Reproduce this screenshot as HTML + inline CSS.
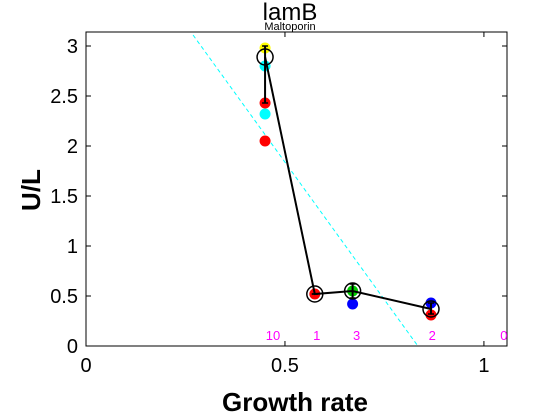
<!DOCTYPE html>
<html><head><meta charset="utf-8"><style>body{margin:0;background:#fff}svg{display:block;font-family:"Liberation Sans",sans-serif}</style></head>
<body>
<svg id="c" width="560" height="420"></svg>
<script>
const xTicks=[0,0.5,1];
const yTicks=[0,0.5,1,1.5,2,2.5,3];
const groupX=[0.45,0.575,0.67,0.867];
const meanY=[2.89,0.52,0.55,0.37];
const counts=["10","1","3","2","0"];
const countX=[0.47,0.58,0.68,0.87,1.05];
const pointX=[0.45,0.45,0.45,0.45,0.45,0.575,0.67,0.67,0.867,0.867];
const pointY=[2.98,2.80,2.43,2.32,2.05,0.52,0.55,0.42,0.43,0.31];
const pointC=["#ff0","#0ff","#f00","#0ff","#f00","#f00","#0c0","#00f","#00f","#f00"];
const errLow=[2.43,0.52,0.48,0.32];
const errHigh=[3.0,0.52,0.62,0.43];
const fitX=[0.269,0.834];
const fitY=[3.11,0];
const L=86,R=507,T=32,B=346,XMAX=1.058,YMAX=3.14;
const sx=v=>L+v/XMAX*(R-L), sy=v=>B-v/YMAX*(B-T);
const svg=document.getElementById('c');const NS='http://www.w3.org/2000/svg';
function mk(t,a,p){const e=document.createElementNS(NS,t);for(const k in a)e.setAttribute(k,a[k]);(p||svg).appendChild(e);return e;}
let e=mk('rect',{x:L,y:T,width:R-L,height:B-T,fill:'#fff',stroke:'#000'});

xTicks.forEach(v=>{mk('line',{x1:sx(v),x2:sx(v),y1:B,y2:B-5,stroke:'#000'});mk('line',{x1:sx(v),x2:sx(v),y1:T,y2:T+5,stroke:'#000'});
e=mk('text',{x:sx(v),y:B+26,'font-size':20,'text-anchor':'middle'});e.textContent=v;});
yTicks.forEach(v=>{mk('line',{x1:L,x2:L+5,y1:sy(v),y2:sy(v),stroke:'#000'});mk('line',{x1:R,x2:R-5,y1:sy(v),y2:sy(v),stroke:'#000'});
e=mk('text',{x:L-8,y:sy(v)+7,'font-size':20,'text-anchor':'end'});e.textContent=v;});
e=mk('line',{x1:sx(fitX[0]),y1:sy(fitY[0]),x2:sx(fitX[1]),y2:sy(fitY[1]),stroke:'#0ff','stroke-dasharray':'4,3'});

pointX.forEach((x,i)=>{e=mk('circle',{cx:sx(x),cy:sy(pointY[i]),r:5.5,fill:pointC[i]});});
groupX.forEach((x,i)=>{e=mk('line',{x1:sx(x),x2:sx(x),y1:sy(errLow[i]),y2:sy(errHigh[i]),stroke:'#000','stroke-width':2});
mk('line',{x1:sx(x)-3,x2:sx(x)+3,y1:sy(errLow[i]),y2:sy(errLow[i]),stroke:'#000','stroke-width':1.5});mk('line',{x1:sx(x)-3,x2:sx(x)+3,y1:sy(errHigh[i]),y2:sy(errHigh[i]),stroke:'#000','stroke-width':1.5});});
e=mk('polyline',{points:groupX.map((x,i)=>sx(x)+','+sy(meanY[i])).join(' '),fill:'none',stroke:'#000','stroke-width':2});

groupX.forEach((x,i)=>{e=mk('circle',{cx:sx(x),cy:sy(meanY[i]),r:8,fill:'none',stroke:'#000','stroke-width':1.5});});
counts.forEach((c,i)=>{e=mk('text',{x:sx(countX[i]),y:340,'font-size':13,fill:'#f0f','text-anchor':'middle'});e.textContent=c;});
e=mk('text',{x:290,y:20,'font-size':24,'text-anchor':'middle'});e.textContent='lamB';
e=mk('text',{x:290,y:30,'font-size':11,'text-anchor':'middle'});e.textContent='Maltoporin';
e=mk('text',{x:295,y:411,'font-size':26,'font-weight':'bold','text-anchor':'middle'});e.textContent='Growth rate';
e=mk('text',{x:40,y:190,'font-size':26,'font-weight':'bold','text-anchor':'middle',transform:'rotate(-90 40 190)'});e.textContent='U/L';
</script>
</body></html>
